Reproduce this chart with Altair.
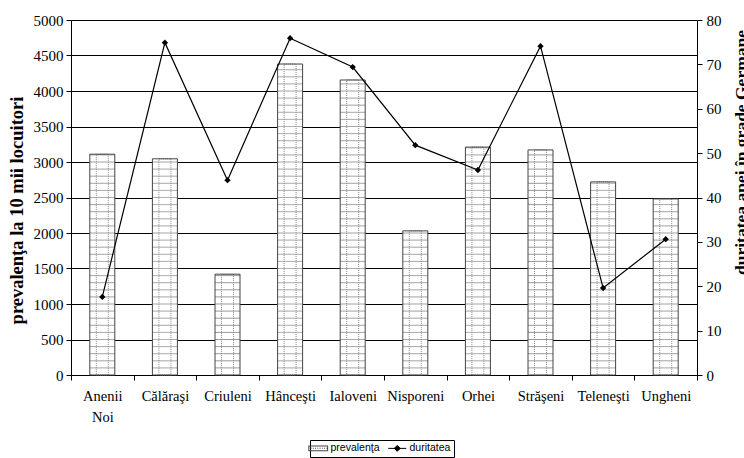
import altair as alt
import pandas as pd

categories = ["Anenii Noi", "Călăraşi", "Criuleni", "Hânceşti", "Ialoveni",
              "Nisporeni", "Orhei", "Străşeni", "Teleneşti", "Ungheni"]
prevalenta = [3110, 3045, 1420, 4380, 4155, 2030, 3210, 3170, 2720, 2480]
duritatea = [17.6, 74.9, 43.9, 75.9, 69.4, 51.8, 46.2, 74.1, 19.6, 30.6]
left_ticks = list(range(0, 5001, 500))
right_ticks = list(range(0, 81, 10))
series = ["prevalenţa", "duritatea"]

df = pd.DataFrame({"cat": categories, "prev": prevalenta, "dur": duritatea})

SERIF = "Liberation Serif"
xaxis = alt.Axis(labelFont=SERIF, labelFontSize=14.5, labelColor="black",
                 labelFontWeight="normal",
                 labelAngle=0, labelPadding=9, labelLineHeight=21,
                 labelExpr="split(datum.label, ' ')",
                 tickBand="extent", tickSize=5, tickColor="black",
                 domainColor="black", labelBaseline="top", grid=False)
xscale = alt.Scale(paddingInner=0, paddingOuter=0)


def xenc():
    return alt.X("cat:N", sort=categories, title=None, scale=xscale, axis=xaxis)


yscale = alt.Scale(domain=[0, 5000], nice=False)
yaxis = alt.Axis(values=left_ticks, format="d", grid=True, gridColor="black", gridWidth=1,
                 domainColor="black", tickColor="black", tickSize=5,
                 labelFont=SERIF, labelFontSize=15, labelColor="black",
                 labelFontWeight="normal", labelPadding=3,
                 title="prevalenţa la 10 mii locuitori", titleFont=SERIF,
                 titleFontSize=18.5, titleFontWeight="bold", titleColor="black",
                 titleAngle=-90, titleX=-49, titleY=190,
                 titleAlign="center", titleBaseline="alphabetic")


def yenc(field):
    return alt.Y(field, scale=yscale, axis=yaxis, title="prevalenţa la 10 mii locuitori")


# legend swatch: hollow box with a dotted row inside; line entry: line + diamond
dots = "".join(f"M{x:.2f},-0.06h0.1v0.1h-0.1Z" for x in [-0.85 + 0.25 * i for i in range(8)])
swatch = "M-1.1,-0.33H1.1V0.33H-1.1ZM-0.99,-0.22V0.22H0.99V-0.22Z" + dots
line_sym = "M-1,0H1M-0.33,0L0,-0.33L0.33,0L0,0.33Z"

color_scale = alt.Scale(domain=series, range=["#444444", "black"])
legend = alt.Legend(
    title=None, orient="none", legendX=239, legendY=420, direction="horizontal",
    strokeColor="black", padding=3, labelFont="Liberation Sans", labelFontSize=10.5,
    labelColor="black", columnPadding=6, labelOffset=7,
    symbolSize=324,
    symbolType=alt.ExprRef(f"datum.label == 'duritatea' ? '{line_sym}' : '{swatch}'"),
    symbolStrokeWidth=alt.ExprRef("datum.label == 'duritatea' ? 1 : 0"),
)

base = alt.Chart(df)

bar_fill = base.mark_bar(size=25, stroke=None, color="white").encode(
    x=xenc(), y=yenc("prev:Q"))

hpat = base.transform_calculate(
    seq="sequence(100, datum.prev, 100)"
).transform_flatten(["seq"]).mark_rect(
    width=25, fill=None, stroke="#999", strokeWidth=1, strokeDash=[1, 1]
).encode(x=xenc(), y=yenc("seq:Q"), y2="seq:Q")

vpat = base.mark_bar(size=12, fill=None, stroke="#888", strokeWidth=1,
                     strokeDash=[1, 1]).encode(x=xenc(), y=yenc("prev:Q"))

outline = base.transform_calculate(s=f"'{series[0]}'").mark_bar(
    size=25, filled=False, strokeWidth=1).encode(
    x=xenc(), y=yenc("prev:Q"),
    color=alt.Color("s:N", scale=color_scale, legend=legend))

bars = alt.layer(bar_fill, hpat, vpat, outline)

line = base.transform_calculate(s=f"'{series[1]}'").mark_line(
    strokeWidth=1.2, point=alt.OverlayMarkDef(shape="diamond", size=40, filled=True)).encode(
    x=xenc(),
    y=alt.Y("dur:Q", scale=alt.Scale(domain=[0, 80], nice=False),
            axis=alt.Axis(orient="right", values=right_ticks, grid=False,
                          domainColor="black", tickColor="black", tickSize=5,
                          labelFont=SERIF, labelFontSize=15, labelColor="black",
                          labelFontWeight="normal", labelPadding=4,
                          title="duritatea apei în grade Germane", titleFont=SERIF,
                          titleFontSize=17.5, titleFontWeight="bold", titleColor="black",
                          titleAngle=-90, titleX=49, titleY=132,
                          titleAlign="center", titleBaseline="alphabetic")),
    color=alt.Color("s:N", scale=color_scale, legend=legend),
)

chart = alt.layer(bars, line).resolve_scale(y="independent").properties(
    width=626, height=355,
    autosize=alt.AutoSizeParams(type="none"),
    padding={"left": 71, "top": 20, "right": 47, "bottom": 83},
    background="white",
).configure_view(stroke=None)

chart.save("out.html", embed_options={"renderer": "svg", "actions": False})
